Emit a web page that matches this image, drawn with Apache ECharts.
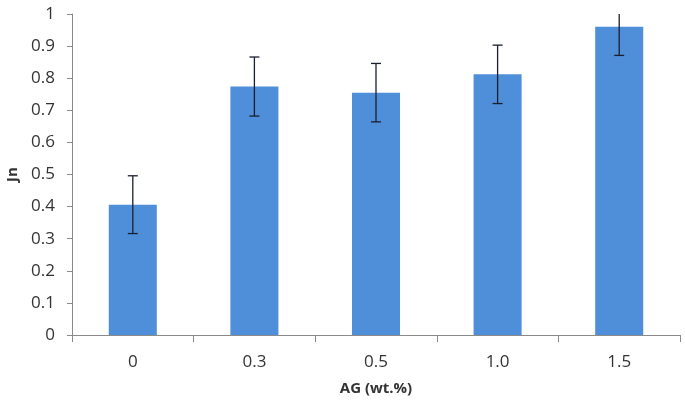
<!DOCTYPE html>
<html><head><meta charset="utf-8">
<script src="https://cdn.jsdelivr.net/npm/echarts@6/dist/echarts.min.js"></script>
<style>html,body{margin:0;padding:0;background:#fff}#c{width:685px;height:408px}</style>
</head><body><div id="c"></div>
<script>
var categories = ['0', '0.3', '0.5', '1.0', '1.5'];
var jnValues = [0.406, 0.774, 0.755, 0.812, 0.960];
var jnErrors = [0.090, 0.092, 0.091, 0.091, 0.089];
var yTicks = [0, 0.1, 0.2, 0.3, 0.4, 0.5, 0.6, 0.7, 0.8, 0.9, 1];

var errData = categories.map(function (c, i) {
  return [i, jnValues[i] - jnErrors[i], jnValues[i] + jnErrors[i]];
});

var chart = echarts.init(document.getElementById('c'));
var font = '"Open Sans", "Liberation Sans", sans-serif';
chart.setOption({
  animation: false,
  grid: { left: 72, right: 5, top: 14, bottom: 73, containLabel: false, outerBoundsMode: 'none' },
  xAxis: {
    type: 'category', data: categories,
    axisLine: { lineStyle: { color: '#8a8a8a', width: 1 } },
    axisTick: { show: true, length: 7, alignWithLabel: false, lineStyle: { color: '#8a8a8a' } },
    axisLabel: { color: '#333', fontSize: 17, fontFamily: font, margin: 19 },
    name: 'AG (wt.%)', nameLocation: 'middle', nameGap: 46,
    nameTextStyle: { color: '#333', fontSize: 15, fontWeight: 'bold', fontFamily: font }
  },
  yAxis: {
    type: 'value', min: 0, max: 1, interval: 0.1,
    axisLine: { show: true, lineStyle: { color: '#8a8a8a', width: 1 } },
    axisTick: { show: true, length: 5, lineStyle: { color: '#8a8a8a' } },
    splitLine: { show: false },
    axisLabel: { color: '#333', fontSize: 17, fontFamily: font, margin: 17,
      formatter: function (v) { var r = Math.round(v * 10) / 10; return yTicks.indexOf(r) >= 0 ? String(r) : ''; } },
    name: 'Jn', nameLocation: 'middle', nameGap: 51, nameRotate: 90,
    nameTextStyle: { color: '#333', fontSize: 15, fontWeight: 'bold', fontFamily: font }
  },
  series: [
    { type: 'bar', data: jnValues, barWidth: '39.5%',
      itemStyle: { color: '#4f8fd9' } },
    { type: 'custom', data: errData, clip: true, z: 10,
      renderItem: function (params, api) {
        var x = api.value(0);
        var lo = api.coord([x, api.value(1)]);
        var hi = api.coord([x, api.value(2)]);
        var hw = 5;
        var st = { stroke: '#1a1f2e', lineWidth: 1.3 };
        return { type: 'group', children: [
          { type: 'line', shape: { x1: lo[0], y1: lo[1], x2: hi[0], y2: hi[1] }, style: st },
          { type: 'line', shape: { x1: lo[0] - hw, y1: lo[1], x2: lo[0] + hw, y2: lo[1] }, style: st },
          { type: 'line', shape: { x1: hi[0] - hw, y1: hi[1], x2: hi[0] + hw, y2: hi[1] }, style: st }
        ]};
      }
    }
  ]
});
</script></body></html>
